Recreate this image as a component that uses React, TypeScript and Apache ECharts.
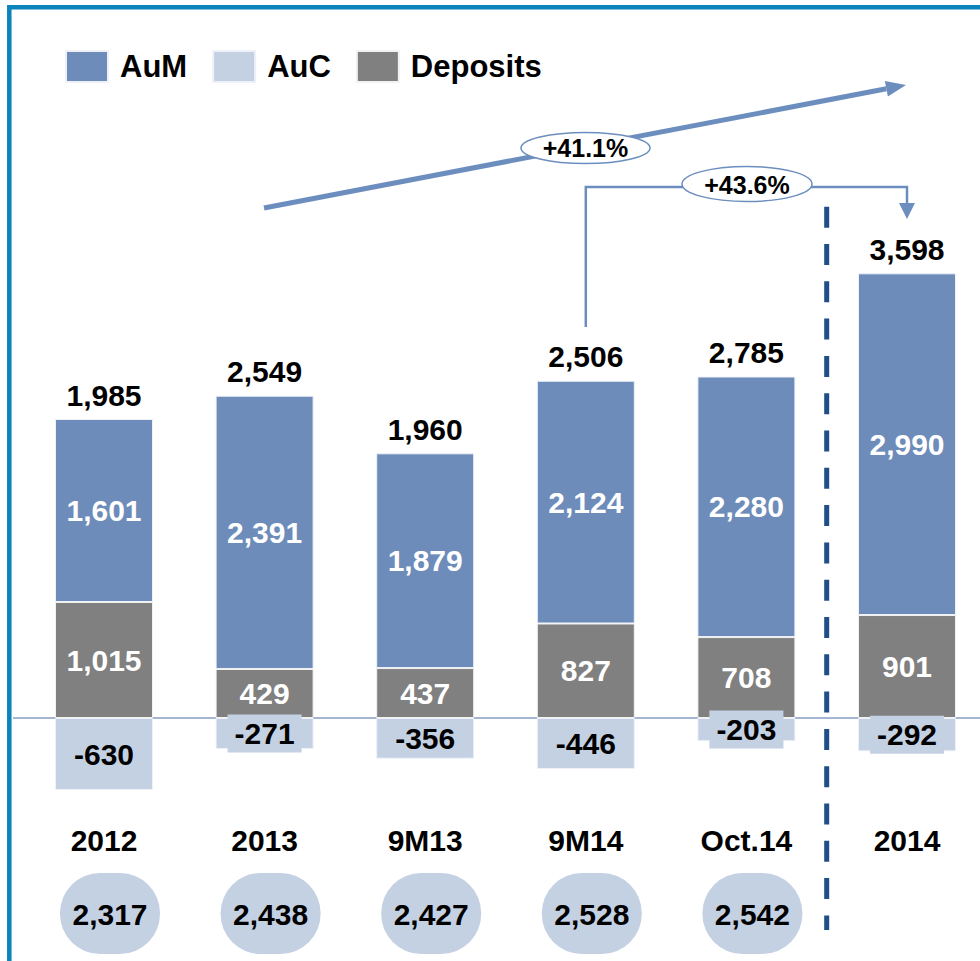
import React, { useEffect, useRef } from "react";
import * as echarts from "echarts";

const categories = ["2012", "2013", "9M13", "9M14", "Oct.14", "2014"];
const aum = [1601, 2391, 1879, 2124, 2280, 2990];
const auc = [-630, -271, -356, -446, -203, -292];
const deposits = [1015, 429, 437, 827, 708, 901];
const totals = [1985, 2549, 1960, 2506, 2785, 3598];
const clients = [2317, 2438, 2427, 2528, 2542];
const growthAll = "+41.1%";
const growthYtd = "+43.6%";

const FONT = "Liberation Sans, Arial, sans-serif";
const C_AUM = "#6d8cba";
const C_AUC = "#c4d1e3";
const C_DEP = "#808080";
const C_ARROW = "#6c8ebf";

const fmt = (v: number) => v.toLocaleString("en-US");

export default function App() {
  const ref = useRef<HTMLDivElement>(null);
  useEffect(() => {
    if (!ref.current) return;
    const chart = echarts.init(ref.current, undefined, { renderer: "svg" });
    const valueLabel = (color: string) => ({
      show: true,
      position: "inside" as const,
      color,
      fontFamily: FONT,
      fontWeight: "bold" as const,
      fontSize: 30,
      formatter: (p: any) => fmt(p.value),
    });
    chart.setOption({
      animation: false,
      backgroundColor: "#ffffff",
      legend: {
        data: ["AuM", "AuC", "Deposits"],
        left: 65,
        top: 50,
        padding: 0,
        icon: "rect",
        itemWidth: 42,
        itemHeight: 31,
        itemGap: 25,
        selectedMode: false,
        textStyle: {
          fontFamily: FONT,
          fontWeight: "bold",
          fontSize: 31,
          color: "#000",
          padding: [0, 0, 0, 7],
        },
      },
      grid: { left: 23.7, width: 963.6, top: 146.57, height: 674.29 },
      xAxis: {
        type: "category",
        data: categories,
        axisLine: { show: false },
        axisTick: { show: false },
        axisLabel: {
          margin: 5,
          fontFamily: FONT,
          fontWeight: "bold",
          fontSize: 30,
          color: "#000",
        },
      },
      yAxis: {
        type: "value",
        min: -900,
        max: 5000,
        show: false,
        splitLine: { show: false },
      },
      series: [
        {
          name: "Deposits",
          type: "bar",
          stack: "s",
          barWidth: 98,
          data: deposits,
          itemStyle: { color: C_DEP, borderColor: "#f2f2f2", borderWidth: 1 },
          label: valueLabel("#ffffff"),
        },
        {
          name: "AuM",
          type: "bar",
          stack: "s",
          barWidth: 98,
          data: aum,
          itemStyle: { color: C_AUM, borderColor: "#eef2f8", borderWidth: 1 },
          label: valueLabel("#ffffff"),
        },
        {
          name: "Total",
          type: "bar",
          stack: "s",
          barWidth: 98,
          data: totals.map(() => 0),
          itemStyle: { color: "transparent" },
          label: {
            show: true,
            position: "top",
            distance: 9,
            color: "#000",
            fontFamily: FONT,
            fontWeight: "bold",
            fontSize: 30,
            formatter: (p: any) => fmt(totals[p.dataIndex]),
          },
        },
        {
          name: "AuC",
          type: "bar",
          stack: "s",
          barWidth: 98,
          data: auc,
          itemStyle: { color: C_AUC, borderColor: "#eef2f8", borderWidth: 1 },
          label: {
            ...valueLabel("#000000"),
            backgroundColor: C_AUC,
            padding: [4, 7],
            formatter: (p: any) => String(p.value),
          },
        },
        {
          name: "Clients",
          type: "custom",
          data: clients.map((v, i) => [i, 0, v]),
          encode: { x: 0, y: 1 },
          z: 3,
          renderItem: (params: any, api: any) => {
            const p = api.coord([api.value(0), 0]);
            const cx = p[0] + 6;
            const top = p[1] + 155;
            return {
              type: "group",
              children: [
                {
                  type: "rect",
                  shape: { x: cx - 50, y: top, width: 100, height: 81, r: 40 },
                  style: { fill: C_AUC },
                },
                {
                  type: "text",
                  style: {
                    text: fmt(api.value(2)),
                    x: cx,
                    y: top + 41,
                    align: "center",
                    verticalAlign: "middle",
                    fontFamily: FONT,
                    fontWeight: "bold",
                    fontSize: 30,
                    fill: "#000",
                  },
                },
              ],
            };
          },
        },
      ],
    });

    const xs = categories.map(
      (_, i) => chart.convertToPixel({ xAxisIndex: 0 }, i) as number
    );
    const zeroY = chart.convertToPixel({ yAxisIndex: 0 }, 0) as number;

    // diagonal arrow geometry
    const sx = 264, sy = 208, tx = 906, ty = 85;
    const dx = tx - sx, dy = ty - sy;
    const len = Math.hypot(dx, dy);
    const ux = dx / len, uy = dy / len;
    const nx = -uy, ny = ux;
    const bx = tx - 20 * ux, by = ty - 20 * uy;

    const xA = xs[3];
    const xB = xs[5];
    const sepX = (xs[4] + xs[5]) / 2;

    chart.setOption({
      graphic: [
        {
          type: "rect",
          z: 0,
          shape: { x: 9.3, y: 7.2, width: 1100, height: 1100 },
          style: { fill: "none", stroke: "#0a84bb", lineWidth: 4.5 },
        },
        {
          type: "line",
          z: 0,
          shape: { x1: 13, y1: zeroY, x2: 1000, y2: zeroY },
          style: { stroke: "#a3b6d4", lineWidth: 2 },
        },
        {
          type: "line",
          z: 5,
          shape: { x1: sepX, y1: 206.7, x2: sepX, y2: 930 },
          style: { stroke: "#1f4e8a", lineWidth: 5, lineDash: [21, 16.3] },
        },
        {
          type: "line",
          z: 5,
          shape: { x1: sx, y1: sy, x2: bx, y2: by },
          style: { stroke: C_ARROW, lineWidth: 5 },
        },
        {
          type: "polygon",
          z: 5,
          shape: {
            points: [
              [tx, ty],
              [bx + 8 * nx, by + 8 * ny],
              [bx - 8 * nx, by - 8 * ny],
            ],
          },
          style: { fill: C_ARROW },
        },
        {
          type: "ellipse",
          z: 6,
          shape: { cx: 585.5, cy: 148, rx: 64.5, ry: 15.5 },
          style: { fill: "#ffffff", stroke: C_ARROW, lineWidth: 1.5 },
        },
        {
          type: "text",
          z: 7,
          style: {
            text: growthAll,
            x: 585.5,
            y: 148,
            align: "center",
            verticalAlign: "middle",
            fontFamily: FONT,
            fontWeight: "bold",
            fontSize: 25,
            fill: "#000",
          },
        },
        {
          type: "polyline",
          z: 5,
          shape: {
            points: [
              [xA, 327],
              [xA, 187],
              [xB, 187],
              [xB, 204],
            ],
          },
          style: { stroke: C_ARROW, lineWidth: 2.5, fill: "none" },
        },
        {
          type: "polygon",
          z: 5,
          shape: {
            points: [
              [xB - 8, 203],
              [xB + 8, 203],
              [xB, 219],
            ],
          },
          style: { fill: C_ARROW },
        },
        {
          type: "ellipse",
          z: 6,
          shape: { cx: 747, cy: 184, rx: 65, ry: 17.5 },
          style: { fill: "#ffffff", stroke: C_ARROW, lineWidth: 1.5 },
        },
        {
          type: "text",
          z: 7,
          style: {
            text: growthYtd,
            x: 747,
            y: 185,
            align: "center",
            verticalAlign: "middle",
            fontFamily: FONT,
            fontWeight: "bold",
            fontSize: 25,
            fill: "#000",
          },
        },
      ],
    });

    return () => chart.dispose();
  }, []);
  return (
    <div
      style={{
        position: "absolute",
        left: 0,
        top: 0,
        width: 980,
        height: 961,
        overflow: "hidden",
        background: "#fff",
      }}
    >
      <div ref={ref} style={{ width: 1000, height: 961 }} />
    </div>
  );
}
